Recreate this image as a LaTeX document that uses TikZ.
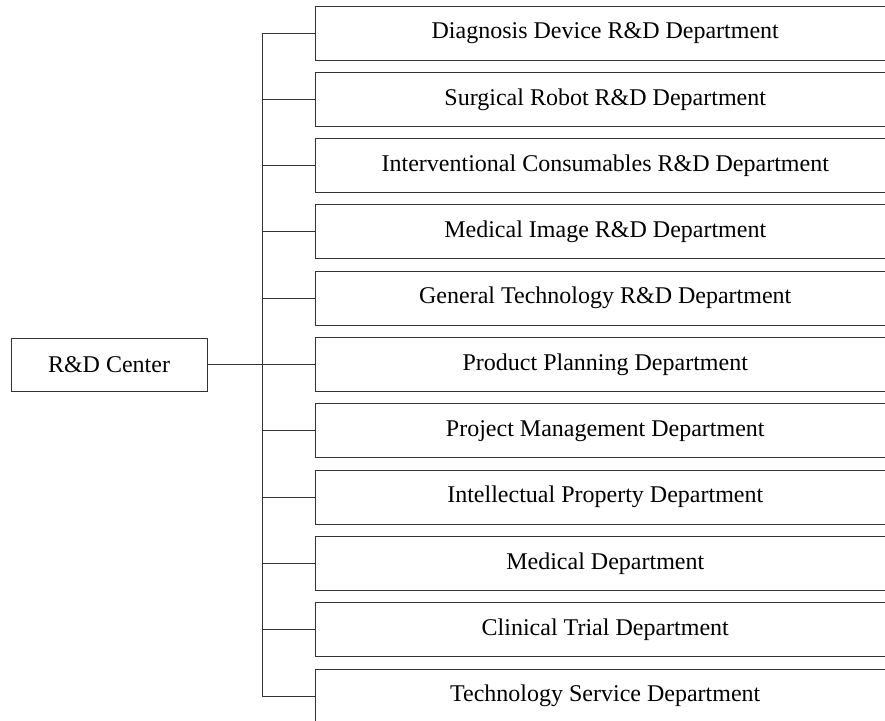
\documentclass[tikz,border=0pt]{standalone}
\usepackage{fontspec}
\setmainfont{Liberation Serif}
\begin{document}
\begin{tikzpicture}[x=1pt,y=-1pt,
  box/.style={draw=black!80, line width=1pt, inner sep=0pt, font=\fontsize{24}{28}\selectfont},
  dept/.style={box, draw=none, minimum width=579.5pt, minimum height=53pt},
  conn/.style={draw=black!80, line width=1pt}]
\useasboundingbox (0,0) rectangle (885,720);
\clip (0,0) rectangle (885,720);
\fill[white] (0,0) rectangle (885,720);
\coordinate (trunk) at (262,0);
\node[box, minimum width=196pt, minimum height=53pt] (c) at (109,364.5) {R\&D Center};
\foreach \i/\t in {1/Diagnosis Device R\&D Department,
  2/Surgical Robot R\&D Department,
  3/Interventional Consumables R\&D Department,
  4/Medical Image R\&D Department,
  5/General Technology R\&D Department,
  6/Product Planning Department,
  7/Project Management Department,
  8/Intellectual Property Department,
  9/Medical Department,
  10/Clinical Trial Department,
  11/Technology Service Department}{
  \node[dept] (d\i) at (605.25, {33+66.3*(\i-1)}) {\t};
  \draw[conn] (d\i.north west) rectangle ([xshift=40pt]d\i.south east);
  \draw[conn] (d\i.west) -- (d\i.west -| trunk);
}
\draw[conn] (d1.west -| trunk) -- (d11.west -| trunk);
\draw[conn] (c.east) -- (d6.west);
\end{tikzpicture}
\end{document}
